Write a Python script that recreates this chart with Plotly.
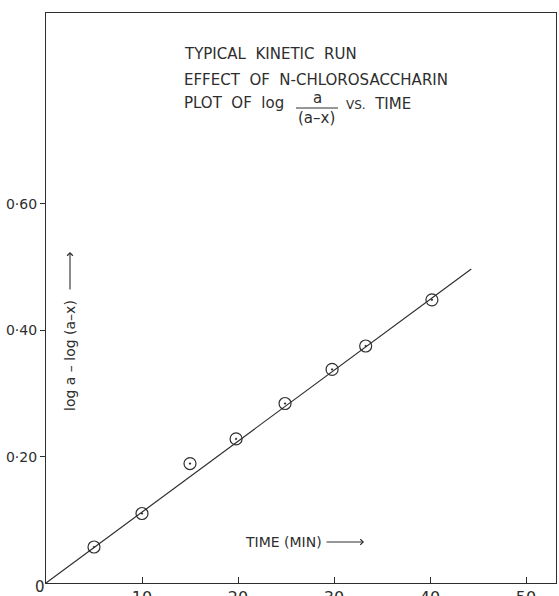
import plotly.graph_objects as go

# ---- data ----
time_min = [5, 10, 15, 19.8, 24.9, 29.8, 33.3, 40.2]
log_ratio = [0.057, 0.110, 0.189, 0.228, 0.284, 0.338, 0.375, 0.448]
fit_time = [0, 44.3]
fit_value = [0, 0.497]

x_ticks = [10, 20, 30, 40, 50]
x_tick_labels = ["10", "20", "30", "40", "50"]
y_ticks = [0.2, 0.4, 0.6]
y_tick_labels = ["0·20", "0·40", "0·60"]
origin_label = "0"

title_line1 = "TYPICAL  KINETIC  RUN"
title_line2 = "EFFECT  OF  N-CHLOROSACCHARIN"
title_line3 = "PLOT  OF  log"
frac_num = "a"
frac_den = "(a–x)"
title_tail = "<span style='font-size:12px'>VS.</span>  TIME"
x_label = "TIME (MIN)"
y_label = "log a – log (a–x)"

# ---- layout geometry ----
W, H = 559, 596
ML, MR, MT, MB = 46, 3, 13, 13
PW, PH = W - ML - MR, H - MT - MB
INK = "#2e2e2e"
FONT = "DejaVu Sans"


def paper(px, py):
    return (px - ML) / PW, (H - MB - py) / PH


fig = go.Figure()
fig.add_trace(go.Scatter(x=fit_time, y=fit_value, mode="lines",
                         line=dict(color=INK, width=1.2), hoverinfo="skip"))
fig.add_trace(go.Scatter(x=time_min, y=log_ratio, mode="markers",
                         marker=dict(symbol="circle-open-dot", size=12,
                                     color=INK, line=dict(color=INK, width=1.2))))

ann = []


def text(s, px, py, size=15, xa="left", angle=0):
    x, y = paper(px, py)
    ann.append(dict(text=s, x=x, y=y, xref="paper", yref="paper",
                    xanchor=xa, yanchor="middle", showarrow=False,
                    textangle=angle, font=dict(family=FONT, size=size, color=INK)))


def arrow(x0, y0, x1, y1):
    xb, yb = paper(x1, y1)
    ann.append(dict(x=xb, y=yb, ax=x0 - x1, ay=y0 - y1, xref="paper", yref="paper",
                    axref="pixel", ayref="pixel", text="", showarrow=True,
                    arrowhead=4, arrowsize=1, arrowwidth=1.1, arrowcolor=INK))


text(title_line1, 182, 54)
text(title_line2, 182, 80)
text(title_line3, 182, 103)
text(frac_num, 317, 98, size=15, xa="center")
text(frac_den, 316, 118, size=15, xa="center")
text(title_tail, 344, 104)
text(x_label, 243, 542, size=14)
arrow(325, 542, 364, 542)
text(y_label, 70, 356, size=14, xa="center", angle=-90)
arrow(70, 291, 70, 252)
text(origin_label, 40, 587, size=15, xa="center")

fx0, fy0 = paper(296, 108)
fx1, _ = paper(338, 108)

fig.update_layout(
    width=W, height=H,
    margin=dict(l=ML, r=MR, t=MT, b=MB, autoexpand=False),
    paper_bgcolor="white", plot_bgcolor="white",
    showlegend=False,
    font=dict(family=FONT, color=INK),
    annotations=ann,
    shapes=[dict(type="line", xref="paper", yref="paper",
                 x0=fx0, x1=fx1, y0=fy0, y1=fy0,
                 line=dict(color=INK, width=1))],
    xaxis=dict(range=[0, PW / 9.6], showgrid=False, zeroline=False,
               showline=True, mirror=True, linecolor=INK, linewidth=1.3,
               ticks="inside", ticklen=6, tickcolor=INK, tickwidth=1,
               tickvals=x_ticks, ticktext=x_tick_labels,
               tickfont=dict(family=FONT, size=16, color=INK),
               automargin=False),
    yaxis=dict(range=[0, PH / 632], showgrid=False, zeroline=False,
               showline=True, mirror=True, linecolor=INK, linewidth=1.3,
               ticks="outside", ticklen=5, tickcolor=INK, tickwidth=1,
               tickvals=y_ticks, ticktext=y_tick_labels,
               tickfont=dict(family=FONT, size=14, color=INK),
               automargin=False),
)

fig.write_html("out.html")
